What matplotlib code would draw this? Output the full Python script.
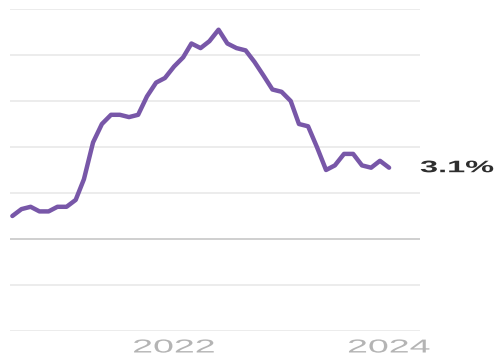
import matplotlib
matplotlib.use("Agg")
import matplotlib.pyplot as plt
import pandas as pd
from matplotlib.patheffects import AbstractPathEffect
from matplotlib.transforms import Affine2D

# ---- data: US CPI, year-over-year % change, monthly ----
start_month = "2020-07-01"
cpi_yoy = [
    1.0, 1.3, 1.4, 1.2, 1.2, 1.4,                              # 2020 Jul-Dec
    1.4, 1.7, 2.6, 4.2, 5.0, 5.4, 5.4, 5.3, 5.4, 6.2, 6.8, 7.0,  # 2021
    7.5, 7.9, 8.5, 8.3, 8.6, 9.1, 8.5, 8.3, 8.2, 7.7, 7.1, 6.5,  # 2022
    6.4, 6.0, 5.0, 4.9, 4.0, 3.0, 3.2, 3.7, 3.7, 3.2, 3.1, 3.4,  # 2023
    3.1,                                                       # 2024 Jan
]
tick_dates = ["2022-01-01", "2024-01-01"]
tick_labels = ["2022", "2024"]
grid_values = [-4, -2, 0, 2, 4, 6, 8, 10]
end_label = "3.1%"

dates = pd.date_range(start_month, periods=len(cpi_yoy), freq="MS")


class HStretch(AbstractPathEffect):
    """Stretch rendered text horizontally (keeps it a real Text artist)."""
    def __init__(self, sx, anchor="center"):
        super().__init__()
        self.sx = sx
        self.anchor = anchor

    def draw_path(self, renderer, gc, tpath, affine, rgbFace=None):
        ext = tpath.get_extents()
        xc = (ext.x0 + ext.x1) / 2 if self.anchor == "center" else 0.0
        t = Affine2D().translate(-xc, 0).scale(self.sx, 1).translate(xc, 0) + affine
        renderer.draw_path(gc, tpath, t, rgbFace)


plt.rcParams["font.family"] = ["Liberation Sans", "DejaVu Sans"]
fig = plt.figure(figsize=(5.01, 3.57), dpi=100)
H = 357.0
W = 501.0
ax = fig.add_axes([10 / W, (H - 331) / H, 410 / W, 322 / H])

ax.set_ylim(-4, 10)
ax.set_xlim(pd.Timestamp("2020-06-23"), pd.Timestamp("2024-04-15"))

for g in grid_values:
    ax.axhline(g, color="#cfcfcf" if g == 0 else "#ececec",
               lw=1.4, zorder=1)

ax.plot(dates, cpi_yoy, color="#7857a8", lw=3.2,
        solid_joinstyle="round", solid_capstyle="round", zorder=3)

for s in ax.spines.values():
    s.set_visible(False)
ax.set_xticks([])
ax.set_yticks([])

xt = ax.get_xaxis_transform()
for d, lab in zip(tick_dates, tick_labels):
    ax.text(pd.Timestamp(d), (331 - 352.5) / 322, lab, transform=xt,
            ha="center", va="baseline", fontsize=13.5, color="#b4b4b4",
            clip_on=False, path_effects=[HStretch(2.0, "center")])

ax.text(1.0, 3.1, end_label, transform=ax.get_yaxis_transform(),
        ha="left", va="center", fontsize=12, color="#2e2e2e",
        fontweight="bold", clip_on=False,
        path_effects=[HStretch(1.95, "left")])

fig.savefig("out.png", dpi=100)
